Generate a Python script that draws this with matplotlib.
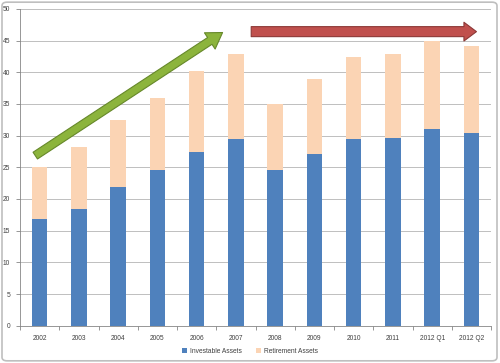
import matplotlib
matplotlib.use('Agg')
import matplotlib.pyplot as plt
from matplotlib.patches import FancyArrowPatch, FancyBboxPatch
import numpy as np

categories = ['2002', '2003', '2004', '2005', '2006', '2007', '2008', '2009',
              '2010', '2011', '2012 Q1', '2012 Q2']
investable = [16.9, 18.35, 21.9, 24.5, 27.45, 29.45, 24.6, 27.15, 29.4, 29.6, 31.0, 30.45]
totals = [25.05, 28.2, 32.5, 36.0, 40.2, 42.85, 35.0, 39.0, 42.4, 42.8, 45.0, 44.15]
retirement = [t - i for t, i in zip(totals, investable)]
yticks = list(range(0, 51, 5))

BLUE = '#4F81BD'
PEACH = '#FBD4B4'
TEXT = '#404040'

plt.rcParams['font.family'] = ['Liberation Sans', 'DejaVu Sans']

fig = plt.figure(figsize=(5.0, 3.63), dpi=100)
fig.patches.append(FancyBboxPatch((0.004, 0.006), 0.99, 0.988,
                                  boxstyle='round,pad=0,rounding_size=0.01',
                                  transform=fig.transFigure, facecolor='none',
                                  edgecolor='#BFBFBF', linewidth=1.2, zorder=10))
ax = fig.add_axes([0.04, 0.1027, 0.942, 0.873])
ax.set_facecolor('none')

x = np.arange(len(categories))
ax.bar(x, investable, width=0.4, color=BLUE, label='Investable Assets', zorder=3)
ax.bar(x, retirement, width=0.4, bottom=investable, color=PEACH,
       label='Retirement Assets', zorder=3)

ax.set_xlim(-0.5, len(categories) - 0.5)
ax.set_ylim(0, 50)
ax.set_yticks(yticks)
ax.set_yticklabels([str(v) for v in yticks], fontsize=4.8, color=TEXT)
ax.set_xticks(x)
ax.set_xticklabels(categories, fontsize=4.8, color=TEXT)
ax.set_xticks(np.arange(-0.5, len(categories), 1), minor=True)
ax.tick_params(axis='x', which='major', length=0, pad=7)
ax.tick_params(axis='x', which='minor', length=3, color='#868686', width=0.6)
ax.tick_params(axis='y', length=3, color='#868686', width=0.6, pad=4)
ax.grid(axis='y', color='#BFBFBF', linewidth=0.7, zorder=0)
for side in ['top', 'right']:
    ax.spines[side].set_visible(False)
for side in ['left', 'bottom']:
    ax.spines[side].set_color('#868686')
    ax.spines[side].set_linewidth(0.6)

# trend arrows
green = FancyArrowPatch((-0.17, 26.6), (4.72, 46.5),
                        arrowstyle='simple,head_length=11,head_width=14,tail_width=5.8',
                        mutation_scale=1, facecolor='#8CB43C', edgecolor='#66882A',
                        linewidth=0.8, zorder=5)
red = FancyArrowPatch((5.32, 46.4), (11.2, 46.4),
                      arrowstyle='simple,head_length=9,head_width=13.5,tail_width=7.2',
                      mutation_scale=1, facecolor='#C0504D', edgecolor='#8C3836',
                      linewidth=0.8, zorder=5)
ax.add_patch(green)
ax.add_patch(red)

leg = fig.legend(loc='center', bbox_to_anchor=(0.5, 0.032), ncol=2, frameon=False,
                 fontsize=4.8, handlelength=0.7, handleheight=0.7, columnspacing=2.2,
                 handletextpad=0.4)
for t in leg.get_texts():
    t.set_color(TEXT)

fig.savefig('out.png', dpi=100)
